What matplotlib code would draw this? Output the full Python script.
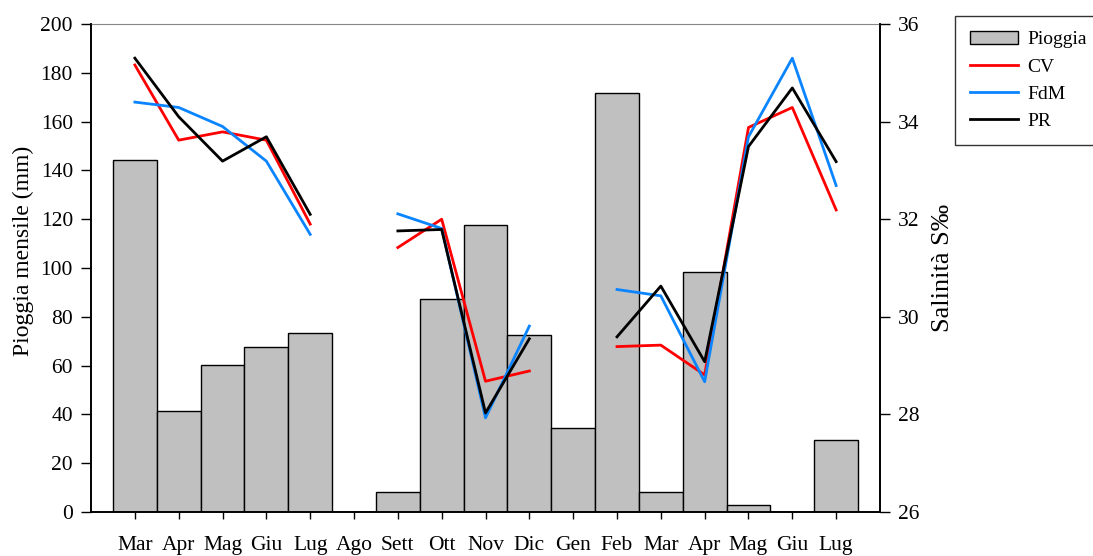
import numpy as np
import matplotlib
matplotlib.use("Agg")
import matplotlib.pyplot as plt

plt.rcParams['font.family'] = ['Liberation Serif', 'DejaVu Serif']

months = ['Mar', 'Apr', 'Mag', 'Giu', 'Lug', 'Ago', 'Sett', 'Ott', 'Nov',
          'Dic', 'Gen', 'Feb', 'Mar', 'Apr', 'Mag', 'Giu', 'Lug']

# monthly rainfall (mm)
pioggia = [144.3, 41.4, 60.3, 67.6, 73.4, 0.0, 8.2, 87.4, 117.6,
           72.6, 34.4, 171.7, 8.3, 98.3, 2.9, 0.0, 29.5]

nan = np.nan
# salinity (per mille), NaN where no sample
cv = [35.16, 33.62, 33.79, 33.62, 31.90, nan, 31.42, 32.00, 28.68,
      28.89, nan, 29.39, 29.42, 28.81, 33.88, 34.29, 32.19]
fdm = [34.40, 34.29, 33.90, 33.19, 31.69, nan, 32.11, 31.81, 27.93,
       29.81, nan, 30.56, 30.43, 28.67, 33.69, 35.30, 32.69]
pr = [35.30, 34.10, 33.19, 33.69, 32.10, nan, 31.76, 31.79, 28.03,
      29.55, nan, 29.59, 30.63, 29.08, 33.49, 34.69, 33.18]

x = np.arange(len(months))

fig = plt.figure(figsize=(10.93, 5.56), dpi=100)
ax = fig.add_axes([0.0833, 0.0791, 0.7218, 0.8777])

bars = ax.bar(x, pioggia, width=1.0, color='#c0c0c0', edgecolor='black',
              linewidth=1.0, label='Pioggia')
ax.set_xlim(-1, 17)
ax.set_ylim(0, 200)
ax.set_yticks(np.arange(0, 201, 20))
ax.set_xticks(x)
ax.set_xticklabels(months)
ax.set_ylabel('Pioggia mensile (mm)', fontsize=17)
ax.yaxis.set_label_coords(-0.072, 0.535)
ax.tick_params(axis='y', direction='out', length=7, width=1, pad=6,
               labelsize=15.5)
ax.tick_params(axis='x', direction='out', length=5, width=1, pad=12,
               labelsize=15.5)
ax.spines['top'].set_linewidth(0.8)
ax.spines['top'].set_color('#888888')

ax2 = ax.twinx()
lw = 2
l1, = ax2.plot(x, cv, color='#ff0000', lw=lw, label='CV')
l2, = ax2.plot(x, fdm, color='#0a84ff', lw=lw, label='FdM')
l3, = ax2.plot(x, pr, color='black', lw=lw, label='PR')
ax2.set_ylim(26, 36)
ax2.set_yticks(np.arange(26, 37, 2))
ax2.set_ylabel('Salinità S‰', fontsize=19, labelpad=9)
ax2.tick_params(axis='y', direction='out', length=7, width=1, pad=6,
                labelsize=15.5)
ax2.spines['top'].set_visible(False)

for a in (ax, ax2):
    for side in ('left', 'right', 'bottom'):
        a.spines[side].set_linewidth(1.2)

leg = fig.legend([bars, l1, l2, l3], ['Pioggia', 'CV', 'FdM', 'PR'],
                 loc='upper left', bbox_to_anchor=(955 / 1093, 1 - 16 / 556),
                 fontsize=14, frameon=True, fancybox=False,
                 handlelength=2.5, handletextpad=0.45, labelspacing=0.5,
                 borderpad=0.75, borderaxespad=0)
leg.get_frame().set_edgecolor('black')
leg.get_frame().set_linewidth(1.0)

fig.savefig('out.png', dpi=100)
